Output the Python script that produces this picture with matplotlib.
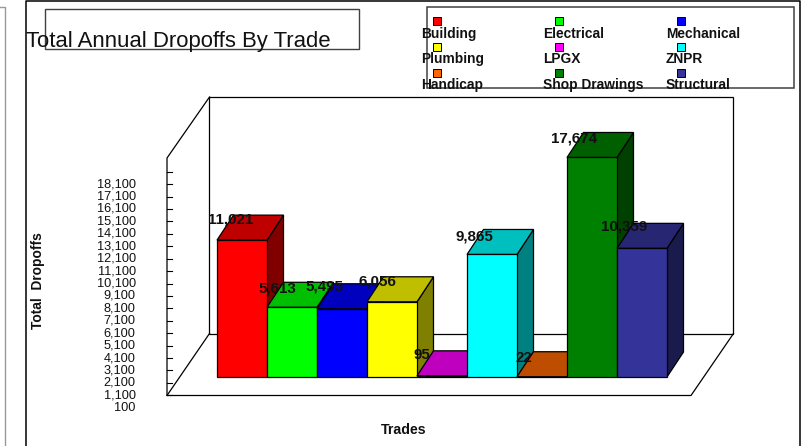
import matplotlib
matplotlib.use('Agg')
import matplotlib.pyplot as plt
from matplotlib.patches import Rectangle

plt.rcParams['font.family'] = ['Liberation Sans', 'DejaVu Sans']

# data
trades = ['Building', 'Electrical', 'Mechanical', 'Plumbing', 'LPGX', 'ZNPR',
          'Handicap', 'Shop Drawings', 'Structural']
dropoffs = [11021, 5613, 5495, 6056, 95, 9865, 22, 17674, 10359]
colors = ['#ff0000', '#00ff00', '#0000ff', '#ffff00', '#ff00ff', '#00ffff',
          '#ff6600', '#008000', '#333399']
y_tick_values = list(range(100, 18101, 1000))

# nudges of the value labels, in pixels
label_dx = [14, 10, 7, 10, 5, 7, 7, 7, 7]
label_dy = [-21, -19, -22, -20, -21, -18, -19, -19, -22]

W, H = 804, 446
BAR_LEFT = 217   # pixel x of first bar
BAR_W = 50       # pixels per bar
BASE_Y = 377     # pixel y of the bar bases
PX_PER_UNIT = 0.01242
DEPTH_X = 16.5 / BAR_W
DEPTH_Y = 25 / PX_PER_UNIT
TICK_SHIFT = 2573  # axis labels sit lower than the bar base


def shade(color, k):
    r, g, b = matplotlib.colors.to_rgb(color)
    return (r * k, g * k, b * k)


fig = plt.figure(figsize=(W / 100, H / 100), dpi=100)

# page furniture in pixel coordinates
bg = fig.add_axes([0, 0, 1, 1])
bg.set_xlim(0, W)
bg.set_ylim(H, 0)
bg.axis('off')

bg.plot([0, 5.5, 5.5], [6.5, 6.5, H], color='#999999', lw=1.0)
bg.plot([26, 26, 799.7, 799.7], [H, 1.2, 1.2, H], color='black', lw=1.1)

bg.add_patch(Rectangle((45, 8.5), 314, 40.5, fill=False, ec='#404040', lw=1.0))
bg.text(26.5, 47, 'Total Annual Dropoffs By Trade', fontsize=15.9, va='baseline', color='#111111')

bg.add_patch(Rectangle((427, 7), 367, 80.5, fill=False, ec='#404040', lw=1.1))
for i, name in enumerate(trades):
    col = i % 3
    row = i // 3
    bg.add_patch(Rectangle((432.7 + col * 122.3, 16.5 + row * 26), 8, 8.5,
                           fc=colors[i], ec='black', lw=0.7))
    bg.text(421 + col * 122.5, 33.8 + row * 25.6, name, fontsize=9.95, fontweight='bold',
            va='center', ha='left', color='#111111')

# chart walls and floor
bg.add_patch(Rectangle((209.5, 97), 524, 236.5, fc='white', ec='black', lw=0.9))
bg.plot([209.5, 167, 167, 691, 733.5], [97, 158, 395.5, 395.5, 333.5], color='black', lw=0.9)
bg.plot([167, 209.5], [395.5, 333.5], color='black', lw=0.9)

bg.text(38, 281, 'Total  Dropoffs', rotation=90, fontsize=9.9, fontweight='bold',
        ha='center', va='center', color='#111111')
bg.text(403.5, 430.5, 'Trades', fontsize=10.2, fontweight='bold', ha='center', va='center',
        color='#111111')

# bars in data coordinates: x in bar index, y in dropoffs
ax = fig.add_axes([0, 0, 1, 1])
ax.patch.set_alpha(0)
ax.axis('off')
ax.set_xlim((0 - BAR_LEFT) / BAR_W, (W - BAR_LEFT) / BAR_W)
ax.set_ylim((BASE_Y - H) / PX_PER_UNIT, BASE_Y / PX_PER_UNIT)

for i, v in enumerate(dropoffs):
    x0, x1 = i, i + 1
    ax.fill([x1, x1 + DEPTH_X, x1 + DEPTH_X, x1],
            [0, DEPTH_Y, v + DEPTH_Y, v],
            fc=shade(colors[i], 0.5), ec='black', lw=0.9, zorder=3)
    ax.fill([x0, x0 + DEPTH_X, x1 + DEPTH_X, x1],
            [v, v + DEPTH_Y, v + DEPTH_Y, v],
            fc=shade(colors[i], 0.75), ec='black', lw=0.9, zorder=3)
    ax.bar(x0, v, width=1, align='edge', color=colors[i], edgecolor='black', lw=0.9, zorder=3)

for i, v in enumerate(dropoffs):
    ax.annotate(f'{v:,}', (i, v), xytext=(label_dx[i] * 0.72, -label_dy[i] * 0.72),
                textcoords='offset points', fontsize=10.9, fontweight='bold',
                ha='center', va='center', color='#111111', zorder=5)

# y axis ticks sit on the front edge of the left wall
wall_x = (167 - BAR_LEFT) / BAR_W
for v in y_tick_values[1:] + [19100]:
    ax.plot([wall_x, wall_x + 0.1], [v - TICK_SHIFT, v - TICK_SHIFT], color='black', lw=0.8, zorder=2)
for v in y_tick_values:
    ax.text((135.7 - BAR_LEFT) / BAR_W, v - TICK_SHIFT, f'{v:,}', fontsize=9.2, ha='right',
            va='center', color='#111111')

fig.savefig('out.png', dpi=100)
